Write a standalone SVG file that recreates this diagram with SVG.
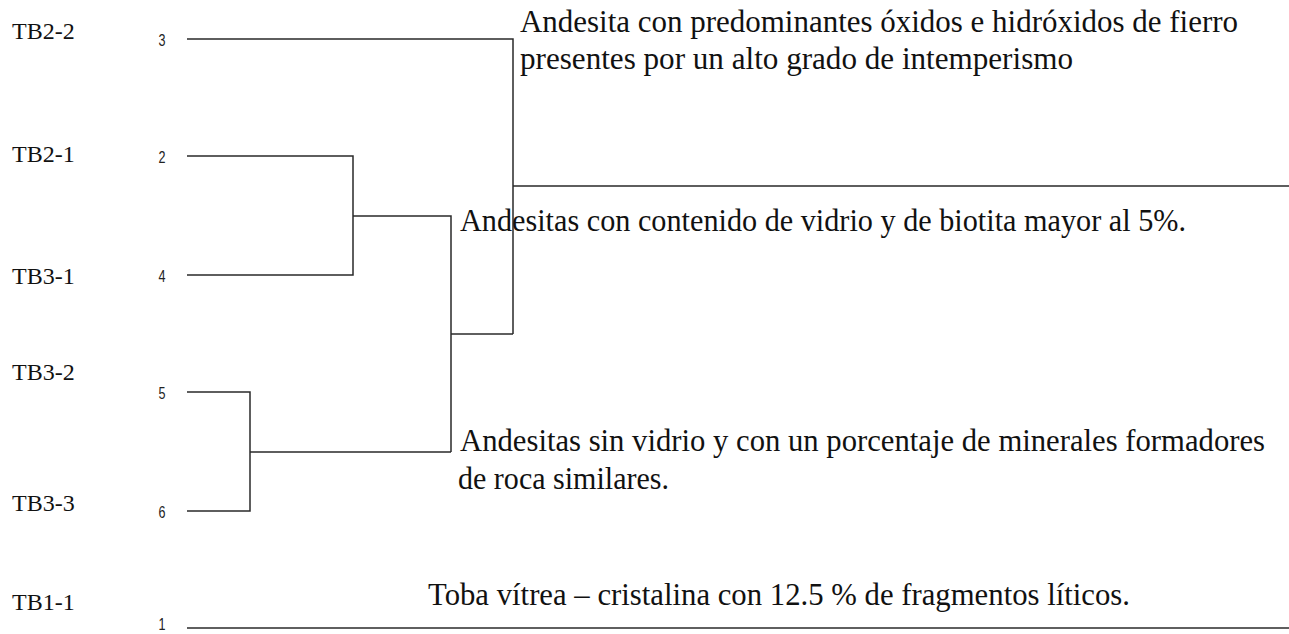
<svg xmlns="http://www.w3.org/2000/svg" width="1289" height="634" viewBox="0 0 1289 634">
<style>
.lbl{font-family:"Liberation Serif","Times New Roman",serif;font-size:24px;fill:#111}
.num{font-family:"Liberation Sans",Arial,sans-serif;font-size:17px;fill:#222}
.ann{font-family:"Liberation Serif","Times New Roman",serif;font-size:31px;fill:#111}
.ln{stroke:#2a2a2a;stroke-width:1.5;fill:none}
</style>
<rect width="1289" height="634" fill="#fff"/>
<g id="connectors">
<path class="ln" d="M187 39H513V334M513 186H1289"/>
<path class="ln" d="M187 156H353V275H187M353 216H451V452"/>
<path class="ln" d="M451 334H513"/>
<path class="ln" d="M187 392H250V511H187M250 452H451"/>
<path class="ln" d="M187 628H1289"/>
</g>
<g id="leaf-TB2-2"><text class="lbl" x="12" y="39">TB2-2</text><text class="num" x="158.5" y="46" textLength="7" lengthAdjust="spacingAndGlyphs">3</text></g>
<g id="leaf-TB2-1"><text class="lbl" x="12" y="162">TB2-1</text><text class="num" x="158.5" y="163" textLength="7" lengthAdjust="spacingAndGlyphs">2</text></g>
<g id="leaf-TB3-1"><text class="lbl" x="12" y="284">TB3-1</text><text class="num" x="158.5" y="282" textLength="7" lengthAdjust="spacingAndGlyphs">4</text></g>
<g id="leaf-TB3-2"><text class="lbl" x="12" y="380">TB3-2</text><text class="num" x="158.5" y="399" textLength="7" lengthAdjust="spacingAndGlyphs">5</text></g>
<g id="leaf-TB3-3"><text class="lbl" x="12" y="511">TB3-3</text><text class="num" x="158.5" y="518" textLength="7" lengthAdjust="spacingAndGlyphs">6</text></g>
<g id="leaf-TB1-1"><text class="lbl" x="12" y="610">TB1-1</text><text class="num" x="158.5" y="630" textLength="7" lengthAdjust="spacingAndGlyphs">1</text></g>
<g id="note-oxidos"><text class="ann" x="520" y="32" textLength="718" lengthAdjust="spacingAndGlyphs">Andesita con predominantes óxidos e hidróxidos de fierro</text><text class="ann" x="520" y="69" textLength="553" lengthAdjust="spacingAndGlyphs">presentes por un alto grado de intemperismo</text></g>
<g id="note-vidrio"><text class="ann" x="460" y="231" textLength="726" lengthAdjust="spacingAndGlyphs">Andesitas con contenido de vidrio y de biotita mayor al 5%.</text></g>
<g id="note-sinvidrio"><text class="ann" x="460" y="451" textLength="805" lengthAdjust="spacingAndGlyphs">Andesitas sin vidrio y con un porcentaje de minerales formadores</text><text class="ann" x="458" y="489" textLength="211" lengthAdjust="spacingAndGlyphs">de roca similares.</text></g>
<g id="note-toba"><text class="ann" x="428" y="605" textLength="702" lengthAdjust="spacingAndGlyphs">Toba vítrea – cristalina con 12.5 % de fragmentos líticos.</text></g>
</svg>
